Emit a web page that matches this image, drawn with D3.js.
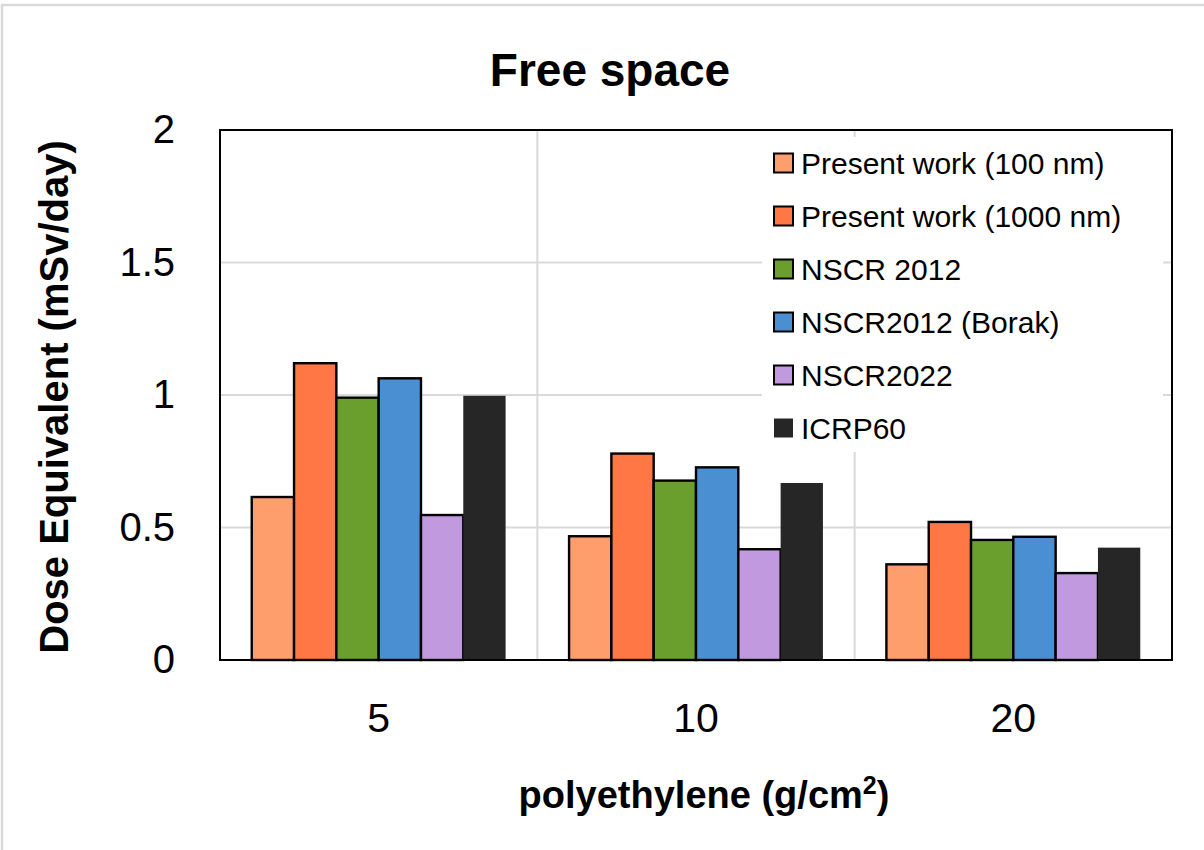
<!DOCTYPE html>
<html>
<head>
<meta charset="utf-8">
<script src="https://cdn.jsdelivr.net/npm/d3@7"></script>
<style>
  body { margin: 0; background: #fff; }
  text { font-family: 'Liberation Sans', Arial, sans-serif; fill: #000; }
</style>
</head>
<body>
<div id="chart"></div>
<script>
// data
const categories = ['5', '10', '20'];
const seriesNames = [
  'Present work (100 nm)',
  'Present work (1000 nm)',
  'NSCR 2012',
  'NSCR2012 (Borak)',
  'NSCR2022',
  'ICRP60'
];
const present100 = [0.615, 0.467, 0.361];
const present1000 = [1.12, 0.779, 0.521];
const nscr2012 = [0.99, 0.677, 0.453];
const nscr2012Borak = [1.063, 0.727, 0.465];
const nscr2022 = [0.547, 0.418, 0.328];
const icrp60 = [0.997, 0.668, 0.424];
const yTicks = [0, 0.5, 1, 1.5, 2];

const seriesValues = [present100, present1000, nscr2012, nscr2012Borak, nscr2022, icrp60];
const colors = ['#ff9e6d', '#ff7744', '#6a9f2d', '#4a8fd1', '#c199de', '#262626'];

const W = 1204;
const H = 850;
const margin = { top: 130, right: 32, bottom: 190, left: 220 };

const svg = d3
  .select('#chart')
  .append('svg')
  .attr('width', W)
  .attr('height', H);

// light frame round the figure
svg
  .append('rect')
  .attr('x', 2)
  .attr('y', 5)
  .attr('width', W + 10)
  .attr('height', H + 10)
  .style('fill', 'none')
  .attr('stroke', '#d9d9d9')
  .attr('stroke-width', 2.5);

const x0 = d3
  .scaleBand()
  .domain(categories)
  .range([margin.left, W - margin.right]);

const x1 = d3
  .scaleBand()
  .domain(seriesNames)
  .range([0, x0.bandwidth()])
  .paddingOuter(0.75);

const y = d3
  .scaleLinear()
  .domain([0, 2])
  .range([H - margin.bottom, margin.top]);

// gridlines
svg
  .append('g')
  .selectAll('line')
  .data(yTicks.slice(1, -1))
  .enter()
  .append('line')
  .attr('x1', margin.left)
  .attr('x2', W - margin.right)
  .attr('y1', d => y(d))
  .attr('y2', d => y(d))
  .attr('stroke', '#d9d9d9')
  .attr('stroke-width', 2);

svg
  .append('g')
  .selectAll('line')
  .data(categories.slice(1))
  .enter()
  .append('line')
  .attr('x1', d => x0(d))
  .attr('x2', d => x0(d))
  .attr('y1', margin.top)
  .attr('y2', H - margin.bottom)
  .attr('stroke', '#d9d9d9')
  .attr('stroke-width', 2);

// bars
const groups = svg
  .append('g')
  .selectAll('g')
  .data(categories)
  .enter()
  .append('g')
  .attr('transform', d => `translate(${x0(d)}, 0)`);

groups
  .selectAll('rect')
  .data((c, ci) => seriesNames.map((s, si) => ({ s, si, v: seriesValues[si][ci] })))
  .enter()
  .append('rect')
  .attr('x', d => x1(d.s))
  .attr('width', x1.bandwidth())
  .attr('y', d => y(d.v))
  .attr('height', d => y(0) - y(d.v))
  .attr('fill', d => colors[d.si])
  .attr('stroke', d => (d.si === 5 ? 'none' : '#000'))
  .attr('stroke-width', 2.4);

// axes
const yAxis = svg
  .append('g')
  .attr('transform', `translate(${margin.left}, 0)`)
  .call(
    d3
      .axisLeft(y)
      .tickValues(yTicks)
      .tickSize(0)
      .tickPadding(45)
      .tickFormat(d3.format(''))
  );
yAxis.select('.domain').remove();
yAxis
  .selectAll('text')
  .style('font-size', '40px')
  .style('font-family', "'Liberation Sans', Arial, sans-serif")
  .attr('fill', '#000');

const xAxis = svg
  .append('g')
  .attr('transform', `translate(0, ${H - margin.bottom})`)
  .call(d3.axisBottom(x0).tickSize(0).tickPadding(43));
xAxis.select('.domain').remove();
xAxis
  .selectAll('text')
  .style('font-size', '41px')
  .style('font-family', "'Liberation Sans', Arial, sans-serif")
  .attr('fill', '#000');

// plot frame
svg
  .append('rect')
  .attr('x', margin.left)
  .attr('y', margin.top)
  .attr('width', W - margin.left - margin.right)
  .attr('height', H - margin.top - margin.bottom)
  .style('fill', 'none')
  .attr('stroke', '#000')
  .attr('stroke-width', 2);

// title and axis titles
svg
  .append('text')
  .attr('x', 610)
  .attr('y', 86)
  .attr('text-anchor', 'middle')
  .style('font-size', '46px')
  .style('font-weight', 'bold')
  .text('Free space');

svg
  .append('text')
  .attr('transform', `translate(68, ${(margin.top + H - margin.bottom) / 2 + 2}) rotate(-90)`)
  .attr('text-anchor', 'middle')
  .style('font-size', '40px')
  .style('font-weight', 'bold')
  .text('Dose Equivalent (mSv/day)');

const xTitle = svg
  .append('text')
  .attr('x', 704)
  .attr('y', 808)
  .attr('text-anchor', 'middle')
  .style('font-size', '38px')
  .style('font-weight', 'bold');
xTitle.append('tspan').text('polyethylene (g/cm');
xTitle.append('tspan').attr('dy', -14).style('font-size', '25px').text('2');
xTitle.append('tspan').attr('dy', 14).text(')');

/* Legend */
svg
  .append('rect')
  .attr('x', 762)
  .attr('y', 137)
  .attr('width', 401)
  .attr('height', 315)
  .attr('fill', '#fff');

const legend = svg
  .selectAll('.legendItem')
  .data(seriesNames)
  .enter()
  .append('g')
  .attr('class', 'legendItem')
  .attr('transform', (d, i) => `translate(774, ${163 + i * 53})`);

legend
  .append('rect')
  .attr('x', 0)
  .attr('y', -9.5)
  .attr('width', 19)
  .attr('height', 19)
  .attr('fill', (d, i) => colors[i])
  .attr('stroke', (d, i) => (i === 5 ? 'none' : '#000'))
  .attr('stroke-width', 2);

legend
  .append('text')
  .attr('x', 27)
  .attr('dy', '0.35em')
  .style('font-size', '30px')
  .text(d => d);
</script>
</body>
</html>
